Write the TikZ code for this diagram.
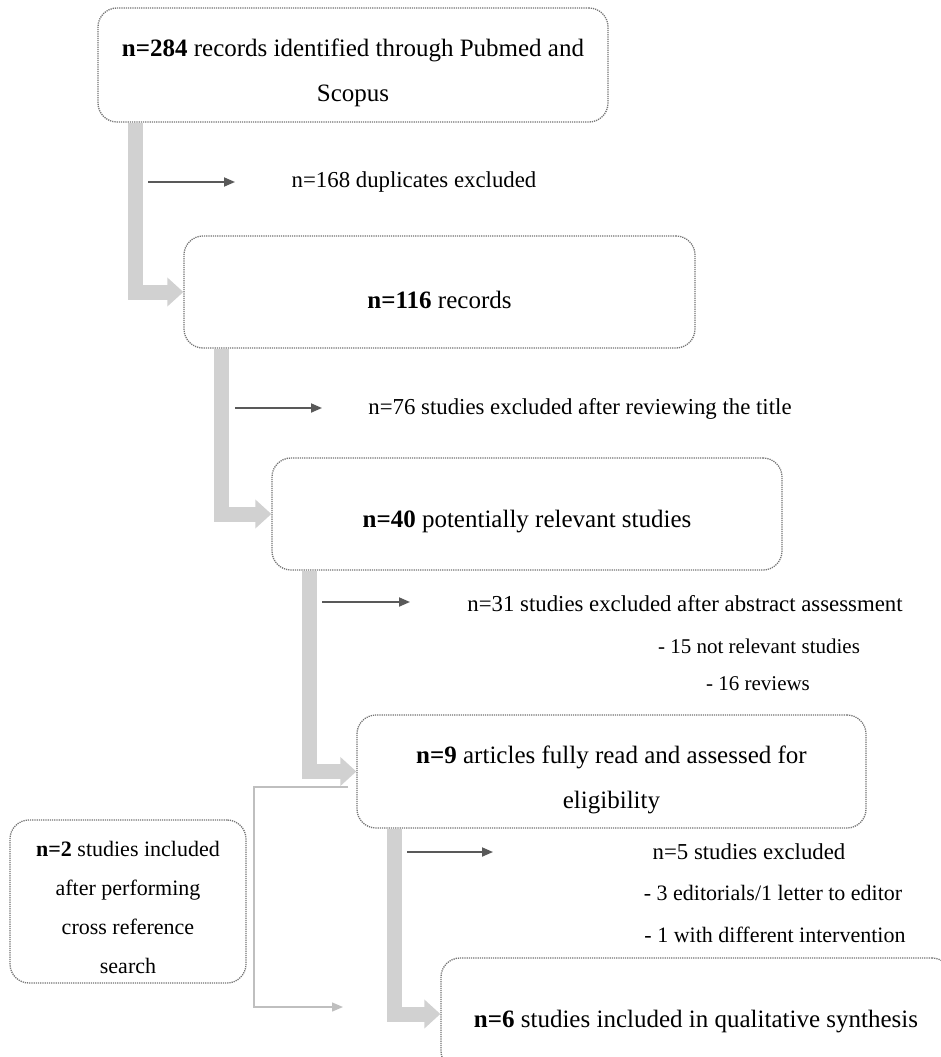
\documentclass[tikz,border=0pt]{standalone}
\usepackage{fontspec}
\setmainfont{Liberation Serif}
\usetikzlibrary{arrows.meta,calc}
\begin{document}
\begin{tikzpicture}[x=1pt,y=-1pt,
 box/.style={draw=black!55, dash pattern=on 1.2pt off 1pt, line width=1.3pt, rounded corners=19pt, inner sep=0pt},
 btext/.style={font=\fontsize{25}{45}\selectfont, align=center, inner sep=0pt, yshift=-8pt},
 ltext/.style={font=\fontsize{22}{39}\selectfont, align=center, inner sep=0pt, yshift=-6pt},
 fat/.style={draw=black!18, line width=15pt, -{Triangle[length=16pt,width=28pt]}},
 exarrow/.style={draw=black!65, line width=1.8pt, -{Triangle[length=11pt,width=9pt]}},
 lbl/.style={font=\fontsize{22.8}{27}\selectfont, inner sep=0pt},
 sub/.style={font=\fontsize{21}{25}\selectfont, inner sep=0pt},
 subb/.style={font=\fontsize{22}{25}\selectfont, inner sep=0pt},
 side/.style={draw=black!25, line width=1.3pt, -{Triangle[length=11pt,width=9pt]}},
]
\useasboundingbox (0,0) rectangle (941,1057);
\clip (0,0) rectangle (941,1057);
\fill[white] (0,0) rectangle (941,1057);

% boxes
\node[box, minimum width=510pt, minimum height=114pt, label={[btext]center:{\textbf{n=284} records identified through Pubmed and\\Scopus}}] (b1) at (353,65) {};
\node[box, minimum width=511pt, minimum height=112pt, label={[btext]center:{\textbf{n=116} records}}] (b2) at (439.5,292) {};
\node[box, minimum width=510pt, minimum height=112pt, label={[btext]center:{\textbf{n=40} potentially relevant studies}}] (b3) at (527,514) {};
\node[box, minimum width=509pt, minimum height=113pt, label={[btext]center:{\textbf{n=9} articles fully read and assessed for\\eligibility}}] (b4) at (611.5,771.5) {};
\node[box, minimum width=510pt, minimum height=112pt, label={[btext]center:{\textbf{n=6} studies included in qualitative synthesis}}] (b5) at (696,1014) {};
\node[box, minimum width=236pt, minimum height=163pt, label={[ltext]center:{\textbf{n=2} studies included\\after performing\\cross reference\\search}}] (bl) at (128,901.5) {};

% fat flow arrows
\draw[fat] ($(b1.south west)+(38,0)$) |- (b2.west);
\draw[fat] ($(b2.south west)+(38,0)$) |- (b3.west);
\draw[fat] ($(b3.south west)+(38,0)$) |- (b4.west);
\draw[fat] ($(b4.south west)+(38,0)$) |- (b5.west);

% exclusion arrows
\coordinate (t1s) at (148,182); \coordinate (t1e) at (235,182);
\coordinate (t2s) at (235,408); \coordinate (t2e) at (322,408);
\coordinate (t3s) at (322,602); \coordinate (t3e) at (410,602);
\coordinate (t4s) at (407,852); \coordinate (t4e) at (493,852);
\draw[exarrow] (t1s) -- (t1e);
\draw[exarrow] (t2s) -- (t2e);
\draw[exarrow] (t3s) -- (t3e);
\draw[exarrow] (t4s) -- (t4e);

% exclusion labels
\node[lbl] (x1) at (414,182) {n=168 duplicates excluded};
\node[lbl] (x2) at (580,409) {n=76 studies excluded after reviewing the title};
\node[lbl] (x3) at (685,604) {n=31 studies excluded after abstract assessment};
\node[sub] (x3a) at (759,646) {- 15 not relevant studies};
\node[sub] (x3b) at (758,684) {- 16 reviews};
\node[lbl] (x4) at (749,852) {n=5 studies excluded};
\node[subb] (x4a) at (773,893) {- 3 editorials/1 letter to editor};
\node[subb] (x4b) at (775,935) {- 1 with different intervention};

% side bracket
\coordinate (s1) at (348,787);
\coordinate (s2) at (343,1007);
\draw[side] (s1) -- (254,787) |- (s2);
\end{tikzpicture}
\end{document}
